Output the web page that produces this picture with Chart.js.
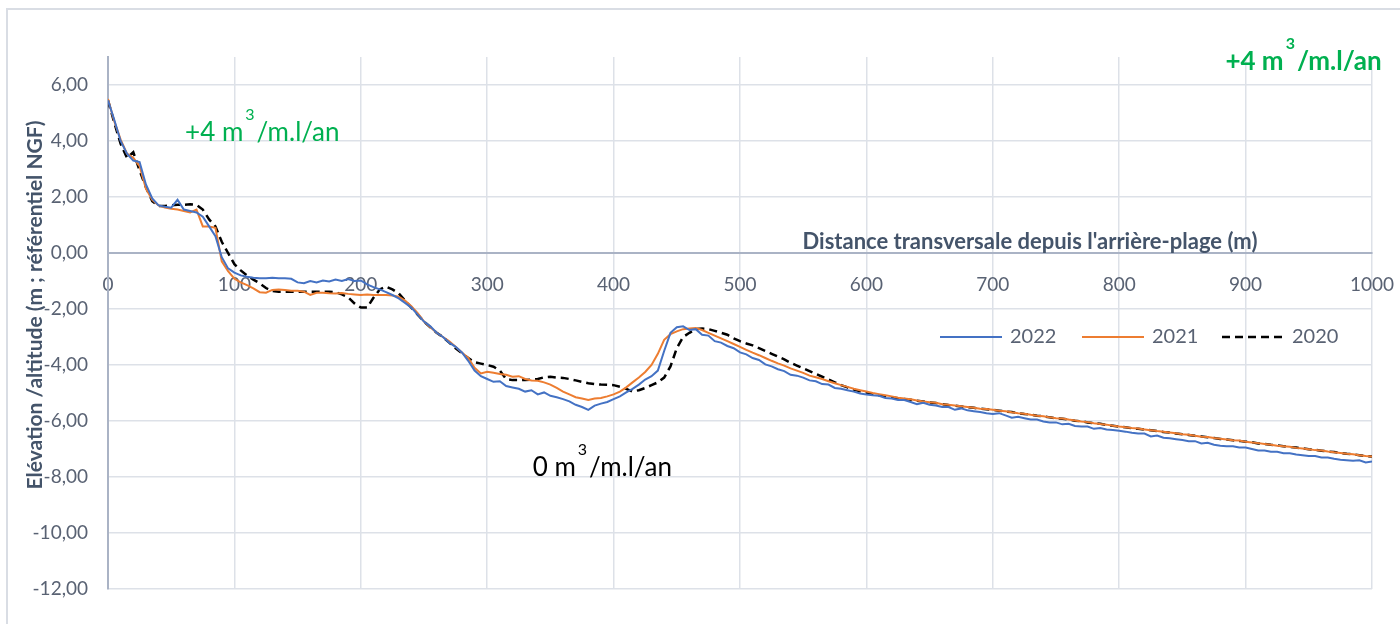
<!DOCTYPE html>
<html>
<head>
<meta charset="utf-8">
<script src="https://cdn.jsdelivr.net/npm/chart.js@4.4.1/dist/chart.umd.min.js"></script>
<style>
    html, body { margin: 0; padding: 0; background: #ffffff; }
    #wrap { width: 1400px; height: 624px; }
</style>
</head>
<body>
<div id="wrap"><canvas id="profilChart" width="1400" height="624"></canvas></div>
<script>
// distance transversale (m)
const distances = [
    0, 5, 10, 15, 20, 25, 30, 35, 40, 45, 50, 55, 60, 65, 70, 75, 80, 85, 90, 95,
    100, 105, 110, 115, 120, 125, 130, 135, 140, 145, 150, 155, 160, 165, 170, 175, 180, 185, 190, 195,
    200, 205, 210, 215, 220, 225, 230, 235, 240, 245, 250, 255, 260, 265, 270, 275, 280, 285, 290, 295,
    300, 305, 310, 315, 320, 325, 330, 335, 340, 345, 350, 355, 360, 365, 370, 375, 380, 385, 390, 395,
    400, 405, 410, 415, 420, 425, 430, 435, 440, 445, 450, 455, 460, 465, 470, 475, 480, 485, 490, 495,
    500, 505, 510, 515, 520, 525, 530, 535, 540, 545, 550, 555, 560, 565, 570, 575, 580, 585, 590, 595,
    600, 605, 610, 615, 620, 625, 630, 635, 640, 645, 650, 655, 660, 665, 670, 675, 680, 685, 690, 695,
    700, 705, 710, 715, 720, 725, 730, 735, 740, 745, 750, 755, 760, 765, 770, 775, 780, 785, 790, 795,
    800, 805, 810, 815, 820, 825, 830, 835, 840, 845, 850, 855, 860, 865, 870, 875, 880, 885, 890, 895,
    900, 905, 910, 915, 920, 925, 930, 935, 940, 945, 950, 955, 960, 965, 970, 975, 980, 985, 990, 995,
    1000
];

const elev2022 = [
    5.45, 4.75, 4.0, 3.55, 3.3, 3.25, 2.45, 1.95, 1.7, 1.65, 1.62, 1.9, 1.55, 1.5, 1.45, 1.3, 0.95, 0.6, -0.15, -0.55,
    -0.7, -0.8, -0.85, -0.88, -0.9, -0.9, -0.88, -0.9, -0.9, -0.92, -1.05, -1.08, -1.0, -1.05, -0.98, -1.02, -0.95, -1.0, -0.93, -1.0,
    -0.98, -1.12, -1.22, -1.3, -1.4, -1.5, -1.62, -1.78, -1.95, -2.2, -2.45, -2.62, -2.85, -3.0, -3.2, -3.35, -3.55, -3.85, -4.2, -4.4,
    -4.5, -4.6, -4.58, -4.75, -4.8, -4.85, -4.95, -4.9, -5.05, -4.98, -5.1, -5.15, -5.22, -5.3, -5.42, -5.5, -5.6, -5.45, -5.38, -5.32,
    -5.22, -5.12, -4.98, -4.85, -4.7, -4.52, -4.4, -4.2, -3.5, -2.85, -2.65, -2.62, -2.75, -2.72, -2.92, -2.95, -3.15, -3.2, -3.32, -3.4,
    -3.55, -3.62, -3.75, -3.82, -3.98, -4.05, -4.15, -4.22, -4.35, -4.38, -4.45, -4.55, -4.58, -4.68, -4.7, -4.82, -4.85, -4.9, -4.95, -5.02,
    -5.05, -5.08, -5.1, -5.18, -5.2, -5.25, -5.25, -5.32, -5.4, -5.35, -5.42, -5.45, -5.5, -5.5, -5.6, -5.55, -5.62, -5.65, -5.68, -5.72,
    -5.75, -5.72, -5.8, -5.88, -5.85, -5.9, -5.95, -5.95, -6.02, -6.05, -6.05, -6.12, -6.1, -6.18, -6.2, -6.2, -6.28, -6.25, -6.3, -6.32,
    -6.35, -6.38, -6.42, -6.45, -6.45, -6.55, -6.52, -6.6, -6.62, -6.65, -6.68, -6.72, -6.72, -6.8, -6.78, -6.85, -6.88, -6.9, -6.9, -6.95,
    -6.95, -7.0, -7.05, -7.05, -7.1, -7.1, -7.15, -7.15, -7.2, -7.22, -7.25, -7.25, -7.3, -7.3, -7.35, -7.38, -7.4, -7.42, -7.4, -7.48,
    -7.45
];

const elev2021 = [
    5.5, 4.7, 4.05, 3.55, 3.4, 3.1, 2.3, 1.9, 1.7, 1.62, 1.58, 1.55, 1.5, 1.45, 1.55, 0.95, 0.95, 0.9, -0.3, -0.65,
    -0.92, -1.05, -1.15, -1.26, -1.4, -1.42, -1.32, -1.3, -1.32, -1.35, -1.35, -1.38, -1.5, -1.42, -1.42, -1.44, -1.45, -1.43, -1.46, -1.48,
    -1.5, -1.48, -1.5, -1.5, -1.5, -1.52, -1.56, -1.7, -1.9, -2.15, -2.45, -2.65, -2.85, -3.0, -3.15, -3.35, -3.55, -3.75, -4.1, -4.3,
    -4.24, -4.28, -4.32, -4.35, -4.42, -4.4, -4.5, -4.55, -4.56, -4.62, -4.7, -4.82, -4.95, -5.05, -5.15, -5.2, -5.25, -5.2, -5.18, -5.12,
    -5.05, -4.95, -4.8, -4.62, -4.45, -4.25, -4.0, -3.6, -3.1, -2.9, -2.8, -2.72, -2.7, -2.68, -2.75, -2.85, -2.95, -3.05, -3.15, -3.25,
    -3.35, -3.46, -3.56, -3.65, -3.75, -3.85, -3.94, -4.02, -4.12, -4.2, -4.28, -4.38, -4.44, -4.5, -4.58, -4.65, -4.72, -4.78, -4.85, -4.9,
    -4.95, -5.0, -5.04, -5.08, -5.12, -5.17, -5.2, -5.22, -5.27, -5.3, -5.33, -5.35, -5.4, -5.42, -5.45, -5.47, -5.5, -5.53, -5.56, -5.57,
    -5.6, -5.63, -5.65, -5.69, -5.72, -5.74, -5.78, -5.81, -5.83, -5.87, -5.9, -5.91, -5.95, -5.98, -6.02, -6.04, -6.08, -6.11, -6.13, -6.17,
    -6.2, -6.22, -6.25, -6.27, -6.3, -6.33, -6.36, -6.38, -6.41, -6.44, -6.47, -6.49, -6.53, -6.56, -6.57, -6.61, -6.63, -6.66, -6.69, -6.7,
    -6.74, -6.77, -6.79, -6.82, -6.85, -6.88, -6.9, -6.92, -6.96, -6.98, -7.01, -7.04, -7.05, -7.09, -7.12, -7.14, -7.17, -7.19, -7.22, -7.25,
    -7.27
];

const elev2020 = [
    5.45, 4.65, 3.9, 3.4, 3.6, 2.95, 2.35, 1.85, 1.68, 1.68, 1.7, 1.72, 1.72, 1.74, 1.72, 1.55, 1.2, 0.95, 0.4, 0.0,
    -0.4, -0.62, -0.8, -0.95, -1.08, -1.25, -1.36, -1.38, -1.38, -1.38, -1.38, -1.38, -1.38, -1.38, -1.38, -1.38, -1.4, -1.48, -1.58, -1.8,
    -1.95, -1.95, -1.6, -1.3, -1.2, -1.3, -1.44, -1.7, -1.95, -2.2, -2.45, -2.65, -2.85, -3.0, -3.2, -3.4, -3.58, -3.75, -3.9, -3.95,
    -4.0, -4.06, -4.2, -4.5, -4.54, -4.54, -4.54, -4.52, -4.5, -4.44, -4.42, -4.45, -4.46, -4.5, -4.55, -4.6, -4.65, -4.68, -4.7, -4.71,
    -4.72, -4.78, -4.85, -4.95, -4.9, -4.82, -4.72, -4.62, -4.45, -4.05, -3.4, -3.0, -2.85, -2.72, -2.7, -2.72, -2.78, -2.85, -2.92, -3.05,
    -3.15, -3.23, -3.3, -3.4, -3.5, -3.6, -3.7, -3.8, -3.92, -4.02, -4.12, -4.22, -4.32, -4.42, -4.52, -4.62, -4.72, -4.8, -4.88, -4.94,
    -4.98, -5.05, -5.08, -5.12, -5.15, -5.19, -5.21, -5.24, -5.28, -5.3, -5.34, -5.36, -5.4, -5.43, -5.45, -5.48, -5.51, -5.53, -5.56, -5.58,
    -5.6, -5.63, -5.66, -5.68, -5.72, -5.75, -5.77, -5.81, -5.83, -5.87, -5.9, -5.92, -5.95, -5.99, -6.01, -6.05, -6.08, -6.1, -6.14, -6.17,
    -6.2, -6.22, -6.26, -6.28, -6.31, -6.33, -6.36, -6.39, -6.41, -6.45, -6.47, -6.5, -6.53, -6.55, -6.58, -6.61, -6.64, -6.66, -6.69, -6.71,
    -6.74, -6.76, -6.8, -6.82, -6.85, -6.87, -6.9, -6.93, -6.95, -6.98, -7.01, -7.03, -7.06, -7.09, -7.11, -7.14, -7.17, -7.19, -7.22, -7.25,
    -7.27
];

const years = ['2022', '2021', '2020'];
const lineColors = ['#4472c4', '#ed7d31', '#000000'];

// bilans volumiques affichés sur le graphique
const rateLabels = [
    { lead: '+4 m', x: 61, y: 4.29, bold: false, color: '#00b050' },
    { lead: '0 m', x: 336, y: -7.68, bold: false, color: '#000000' },
    { lead: '+4 m', x: 884, y: 6.82, bold: true, color: '#00b050' }
];

const FONT = 'Lato, "Open Sans", sans-serif';
const TICK_COLOR = '#596273';
const TITLE_COLOR = '#44546a';

function toPoints(values) {
    return values.map((v, i) => ({ x: distances[i], y: v }));
}

function drawRate(ctx, px, py, item) {
    const w = item.bold ? 'bold ' : '';
    ctx.fillStyle = item.color;
    ctx.textAlign = 'left';
    ctx.textBaseline = 'middle';
    ctx.font = w + '26px ' + FONT;
    ctx.fillText(item.lead, px, py);
    let cx = px + ctx.measureText(item.lead).width + 2;
    ctx.font = w + '16px ' + FONT;
    ctx.fillText('3', cx, py - 18);
    cx += ctx.measureText('3').width + 2;
    ctx.font = w + '26px ' + FONT;
    ctx.fillText('/m.l/an', cx, py);
}

const extras = {
    id: 'extras',
    beforeDraw(chart) {
        const ctx = chart.ctx;
        ctx.save();
        ctx.strokeStyle = '#d9dde4';
        ctx.lineWidth = 2;
        ctx.strokeRect(7, 9, 1400, 620);
        ctx.restore();
    },
    afterDraw(chart) {
        const ctx = chart.ctx;
        const xs = chart.scales.x;
        const ys = chart.scales.y;
        ctx.save();

        // titre axe Y
        ctx.fillStyle = TITLE_COLOR;
        ctx.font = 'bold 21px ' + FONT;
        ctx.textAlign = 'center';
        ctx.textBaseline = 'middle';
        ctx.translate(35, 305);
        ctx.rotate(-Math.PI / 2);
        ctx.fillText('Elévation /altitude (m ; référentiel NGF)', 0, 0);
        ctx.setTransform(1, 0, 0, 1, 0, 0);

        // titre axe X
        ctx.font = 'bold 22px ' + FONT;
        ctx.fillText("Distance transversale depuis l'arrière-plage (m)", 1030, 242);

        // légende
        ctx.font = '20px ' + FONT;
        ctx.textAlign = 'left';
        const legendX = [940, 1082, 1222];
        chart.data.datasets.forEach((ds, i) => {
            const lx = legendX[i];
            ctx.strokeStyle = ds.borderColor;
            ctx.lineWidth = ds.borderWidth;
            ctx.setLineDash(ds.borderDash || []);
            ctx.beginPath();
            ctx.moveTo(lx, 337);
            ctx.lineTo(lx + 62, 337);
            ctx.stroke();
            ctx.setLineDash([]);
            ctx.fillStyle = TICK_COLOR;
            ctx.fillText(ds.label, lx + 70, 337);
        });

        rateLabels.forEach(item => {
            drawRate(ctx, xs.getPixelForValue(item.x), ys.getPixelForValue(item.y), item);
        });
        ctx.restore();
    }
};

const ctx = document.getElementById('profilChart').getContext('2d');
new Chart(ctx, {
    type: 'line',
    data: {
        datasets: [
            {
                label: years[0],
                data: toPoints(elev2022),
                borderColor: lineColors[0],
                borderWidth: 2,
                pointRadius: 0,
                tension: 0
            },
            {
                label: years[1],
                data: toPoints(elev2021),
                borderColor: lineColors[1],
                borderWidth: 2,
                pointRadius: 0,
                tension: 0
            },
            {
                label: years[2],
                data: toPoints(elev2020),
                borderColor: lineColors[2],
                borderWidth: 2.5,
                borderDash: [8, 5],
                pointRadius: 0,
                tension: 0
            }
        ]
    },
    options: {
        responsive: false,
        animation: false,
        devicePixelRatio: 1,
        layout: {
            padding: { left: 0, right: 28, top: 57, bottom: 35 }
        },
        plugins: {
            legend: { display: false },
            tooltip: { enabled: false }
        },
        scales: {
            x: {
                type: 'linear',
                position: { y: 0 },
                min: 0,
                max: 1000,
                ticks: {
                    stepSize: 100,
                    padding: 20,
                    color: TICK_COLOR,
                    font: { family: FONT, size: 19 },
                    maxRotation: 0,
                    callback: v => String(v)
                },
                grid: { color: '#dde1e8', lineWidth: 1.5, drawTicks: false },
                border: { color: '#aab3c5', width: 2 },
                afterFit: scale => {
                    scale.paddingLeft = 0;
                    scale.paddingRight = 0;
                }
            },
            y: {
                type: 'linear',
                min: -12,
                max: 7,
                ticks: {
                    stepSize: 2,
                    includeBounds: false,
                    padding: 20,
                    color: TICK_COLOR,
                    font: { family: FONT, size: 19 },
                    callback: v => v.toFixed(2).replace('.', ',')
                },
                grid: { color: '#dde1e8', lineWidth: 1.5, drawTicks: false },
                border: { color: '#aab3c5', width: 2 },
                afterFit: scale => { scale.width = 108; }
            }
        }
    },
    plugins: [extras]
});
</script>
</body>
</html>
